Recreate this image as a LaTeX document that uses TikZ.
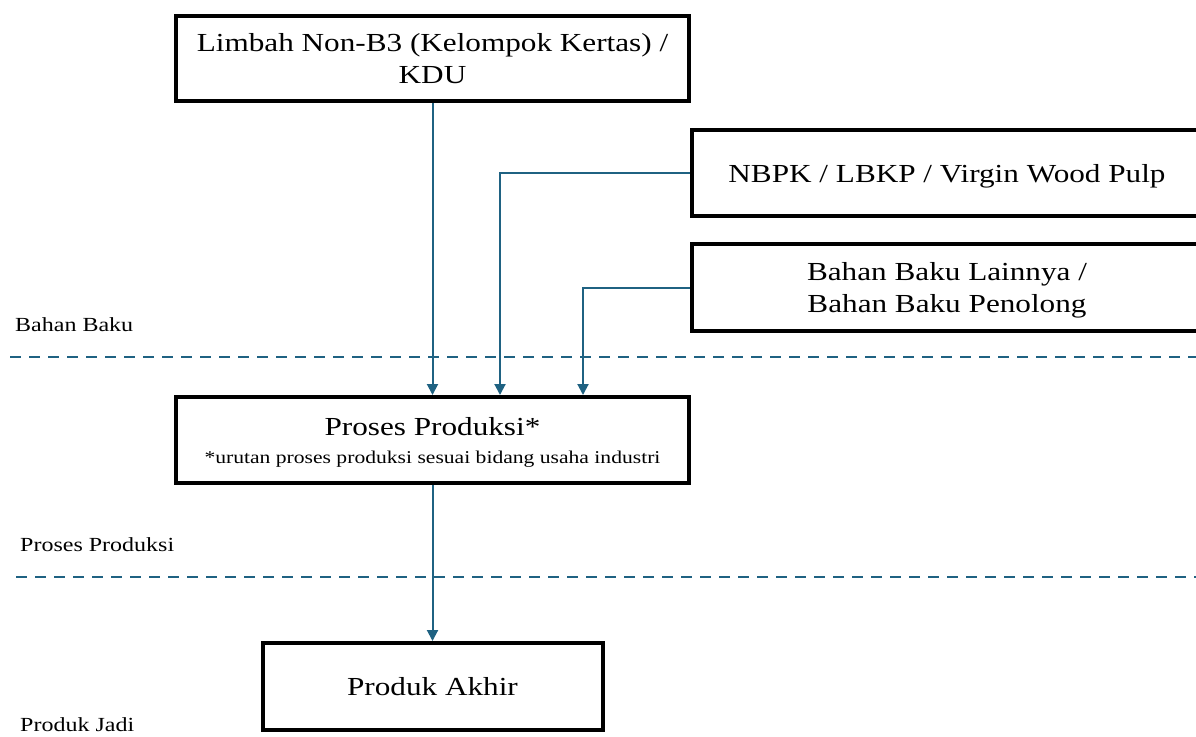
\documentclass[tikz,border=0pt]{standalone}
\usepackage{fontspec}
\setmainfont{Liberation Serif}[FakeStretch=1.2]
\usetikzlibrary{arrows.meta,calc}
\definecolor{conncol}{RGB}{31,98,130}
\begin{document}
\begin{tikzpicture}[x=1pt,y=-1pt,
  box/.style={draw=black,line width=4pt,rectangle,inner sep=0pt,align=center,
    font=\fontsize{26}{32}\selectfont},
  conn/.style={draw=conncol,line width=2pt,-{Triangle[length=11pt,width=11pt]}},
  sep/.style={draw=conncol,line width=2.5pt,dash pattern=on 11pt off 8pt},
  lab/.style={anchor=base west,inner sep=0pt,font=\fontsize{20}{24}\selectfont}]
\useasboundingbox (0,0) rectangle (1196,736);
\node[box,minimum width=513pt,minimum height=85pt,text depth=-6pt] (limbah) at (432.5,58.5)
  {Limbah Non-B3 (Kelompok Kertas) /\\KDU};
\node[box,minimum width=510pt,minimum height=86pt,text depth=-1.4pt] (nbpk) at (947,173)
  {NBPK / LBKP / Virgin Wood Pulp};
\node[box,minimum width=510pt,minimum height=87pt,text depth=-2.5pt] (lain) at (947,287.5)
  {Bahan Baku Lainnya /\\Bahan Baku Penolong};
\node[box,minimum width=513pt,minimum height=86pt,text depth=-3pt] (proses) at (432.5,440)
  {Proses Produksi*\\[-4pt]{\fontsize{18}{22}\selectfont *urutan proses produksi sesuai bidang usaha industri}};
\node[box,minimum width=340pt,minimum height=87pt,text depth=-6pt] (produk) at (432.5,686.5)
  {Produk Akhir};
\coordinate (s1a) at (10,357);
\coordinate (s1b) at (1196,357);
\coordinate (s2a) at (16,577);
\coordinate (s2b) at (1196,577);
\draw[sep] (s1a) -- (s1b);
\draw[sep] (s2a) -- (s2b);
\node[lab] (l1) at (15,331) {Bahan Baku};
\node[lab] (l2) at (20,551) {Proses Produksi};
\node[lab] (l3) at (20,731) {Produk Jadi};
\draw[conn] (limbah.south) -- (proses.north);
\draw[conn] (nbpk.west) -| ($(proses.north)+(67.5,0)$);
\draw[conn] (lain.west |- 0,288) -| ($(proses.north)+(150.5,0)$);
\draw[conn] (proses.south) -- (produk.north);
\end{tikzpicture}
\end{document}
